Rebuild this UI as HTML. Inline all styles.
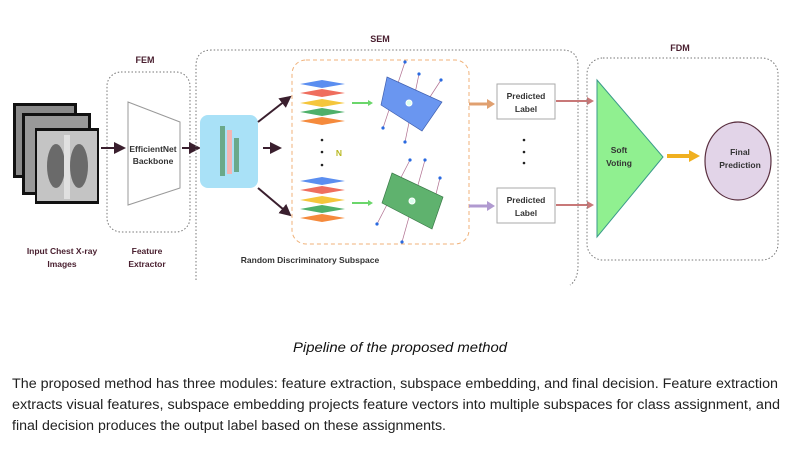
<!DOCTYPE html>
<html><head><meta charset="utf-8"><style>
html,body{margin:0;padding:0;background:#fff;}
svg{display:block;font-family:"Liberation Sans",sans-serif;}
</style></head><body>
<svg width="800" height="450" viewBox="0 0 800 450" xmlns="http://www.w3.org/2000/svg">
<defs>
<marker id="ah" markerWidth="6" markerHeight="6" refX="5" refY="3" orient="auto"><path d="M0,0 L6,3 L0,6 z" fill="#3a1f2e"/></marker>
</defs>
<!-- X-rays -->
<rect x="13" y="103" width="64" height="75" fill="#111"/>
<rect x="16" y="106" width="58" height="69" fill="#8a8a8a"/>
<rect x="22" y="113" width="69" height="82" fill="#111"/>
<rect x="25" y="116" width="63" height="76" fill="#999"/>
<rect x="35" y="128" width="64" height="76" fill="#111"/>
<rect x="37" y="131" width="60" height="70" fill="#c4c4c4"/>
<ellipse cx="56" cy="166" rx="9" ry="22" fill="#6a6a6a"/>
<ellipse cx="79" cy="166" rx="9" ry="22" fill="#6a6a6a"/>
<rect x="64" y="135" width="6" height="64" fill="#e0e0e0"/>
<!-- FEM -->
<text x="145" y="63" font-size="9" font-weight="bold" fill="#4a2030" text-anchor="middle">FEM</text>
<rect x="107" y="72" width="83" height="160" rx="14" fill="none" stroke="#777" stroke-dasharray="1.5,2"/>
<polygon points="128,102 180,122 180,188 128,205" fill="#fff" stroke="#999"/>
<text x="153" y="152" font-size="8.5" font-weight="bold" fill="#333" text-anchor="middle">EfficientNet</text>
<text x="153" y="164" font-size="8.5" font-weight="bold" fill="#333" text-anchor="middle">Backbone</text>
<line x1="101" y1="148" x2="124" y2="148" stroke="#3a1f2e" stroke-width="2" marker-end="url(#ah)"/>
<line x1="182" y1="148" x2="199" y2="148" stroke="#3a1f2e" stroke-width="2" marker-end="url(#ah)"/>
<text x="62" y="254" font-size="8.5" font-weight="bold" fill="#4a2030" text-anchor="middle">Input Chest X-ray</text>
<text x="62" y="267" font-size="8.5" font-weight="bold" fill="#4a2030" text-anchor="middle">Images</text>
<text x="147" y="254" font-size="8.5" font-weight="bold" fill="#4a2030" text-anchor="middle">Feature</text>
<text x="147" y="267" font-size="8.5" font-weight="bold" fill="#4a2030" text-anchor="middle">Extractor</text>
<!-- SEM -->
<text x="380" y="42" font-size="9" font-weight="bold" fill="#4a2030" text-anchor="middle">SEM</text>
<path d="M196,280 L196,66 Q196,50 212,50 L562,50 Q578,50 578,66 L578,265 Q578,280 570,285" fill="none" stroke="#777" stroke-dasharray="1.5,2"/>
<rect x="200" y="115" width="58" height="73" rx="8" fill="#a9e1f7"/>
<rect x="220" y="126" width="5" height="50" fill="#6aa88a"/>
<rect x="227" y="130" width="5" height="44" fill="#f3b4b4"/>
<rect x="234" y="138" width="5" height="34" fill="#6aa88a"/>
<line x1="258" y1="122" x2="290" y2="97" stroke="#3a1f2e" stroke-width="2" marker-end="url(#ah)"/>
<line x1="263" y1="148" x2="280" y2="148" stroke="#3a1f2e" stroke-width="2" marker-end="url(#ah)"/>
<line x1="258" y1="188" x2="290" y2="215" stroke="#3a1f2e" stroke-width="2" marker-end="url(#ah)"/>
<rect x="292" y="60" width="177" height="184" rx="14" fill="none" stroke="#f0b27a" stroke-dasharray="4,3"/>
<g id="stack">
<polygon points="300,84 322,80 345,84 322,88" fill="#5b8ef0"/>
<polygon points="300,93 322,89 345,93 322,97" fill="#ef6e5e"/>
<polygon points="300,103 322,99 345,103 322,107" fill="#f5c63c"/>
<polygon points="300,112 322,108 345,112 322,116" fill="#4fb06a"/>
<polygon points="300,121 322,117 345,121 322,125" fill="#f58a3c"/>
</g>
<use href="#stack" y="97"/>
<circle cx="322" cy="140" r="1.3" fill="#222"/><circle cx="322" cy="152" r="1.3" fill="#222"/><circle cx="322" cy="165" r="1.3" fill="#222"/>
<text x="339" y="156" font-size="8.5" font-weight="bold" fill="#b8b820" text-anchor="middle">N</text>
<line x1="352" y1="103" x2="368" y2="103" stroke="#6bd66b" stroke-width="2"/><polygon points="368,100 373,103 368,106" fill="#6bd66b"/>
<line x1="352" y1="203" x2="368" y2="203" stroke="#6bd66b" stroke-width="2"/><polygon points="368,200 373,203 368,206" fill="#6bd66b"/>
<g stroke="#b07090" stroke-width="0.7">
<line x1="383" y1="128" x2="405" y2="62"/><line x1="405" y1="142" x2="419" y2="74"/><line x1="428" y1="100" x2="441" y2="80"/>
<line x1="377" y1="224" x2="410" y2="160"/><line x1="402" y1="242" x2="425" y2="160"/><line x1="432" y1="210" x2="440" y2="178"/>
</g>
<polygon points="387,77 442,102 422,131 381,105" fill="#6a96f0" stroke="#4060b0" stroke-width="0.7"/>
<polygon points="392,173 443,197 432,229 382,203" fill="#5fb26e" stroke="#3a7a48" stroke-width="0.7"/>
<circle cx="409" cy="103" r="3" fill="#dfe" stroke="#fff"/><circle cx="412" cy="201" r="3" fill="#dfe" stroke="#fff"/>
<g fill="#2a6ae0">
<circle cx="405" cy="62" r="1.6"/><circle cx="419" cy="74" r="1.6"/><circle cx="441" cy="80" r="1.6"/><circle cx="383" cy="128" r="1.6"/><circle cx="405" cy="142" r="1.6"/>
<circle cx="410" cy="160" r="1.6"/><circle cx="425" cy="160" r="1.6"/><circle cx="440" cy="178" r="1.6"/><circle cx="377" cy="224" r="1.6"/><circle cx="402" cy="242" r="1.6"/>
</g>
<text x="310" y="263" font-size="8.5" font-weight="bold" fill="#333" text-anchor="middle">Random Discriminatory Subspace</text>
<line x1="469" y1="104" x2="488" y2="104" stroke="#e0a070" stroke-width="3"/><polygon points="487,99 495,104 487,109" fill="#e0a070"/>
<line x1="469" y1="206" x2="488" y2="206" stroke="#b09ad0" stroke-width="3"/><polygon points="487,201 495,206 487,211" fill="#b09ad0"/>
<rect x="497" y="84" width="58" height="35" fill="#fff" stroke="#aaa"/>
<text x="526" y="99" font-size="8.5" font-weight="bold" fill="#333" text-anchor="middle">Predicted</text>
<text x="526" y="112" font-size="8.5" font-weight="bold" fill="#333" text-anchor="middle">Label</text>
<rect x="497" y="188" width="58" height="35" fill="#fff" stroke="#aaa"/>
<text x="526" y="203" font-size="8.5" font-weight="bold" fill="#333" text-anchor="middle">Predicted</text>
<text x="526" y="216" font-size="8.5" font-weight="bold" fill="#333" text-anchor="middle">Label</text>
<circle cx="524" cy="140" r="1.3" fill="#222"/><circle cx="524" cy="152" r="1.3" fill="#222"/><circle cx="524" cy="163" r="1.3" fill="#222"/>
<line x1="556" y1="101" x2="588" y2="101" stroke="#c87878" stroke-width="2"/><polygon points="587,97 594,101 587,105" fill="#c87878"/>
<line x1="556" y1="205" x2="588" y2="205" stroke="#c87878" stroke-width="2"/><polygon points="587,201 594,205 587,209" fill="#c87878"/>
<!-- FDM -->
<text x="680" y="51" font-size="9" font-weight="bold" fill="#4a2030" text-anchor="middle">FDM</text>
<rect x="587" y="58" width="191" height="202" rx="16" fill="none" stroke="#777" stroke-dasharray="1.5,2"/>
<polygon points="597,80 663,157 597,237" fill="#90f090" stroke="#3a9a8a"/>
<text x="619" y="153" font-size="8.5" font-weight="bold" fill="#333" text-anchor="middle">Soft</text>
<text x="619" y="166" font-size="8.5" font-weight="bold" fill="#333" text-anchor="middle">Voting</text>
<line x1="667" y1="156" x2="690" y2="156" stroke="#f0b020" stroke-width="4"/><polygon points="689,150 700,156 689,162" fill="#f0b020"/>
<ellipse cx="738" cy="161" rx="33" ry="39" fill="#e2d4e8" stroke="#5a3040" stroke-width="1.2"/>
<text x="740" y="155" font-size="8.5" font-weight="bold" fill="#333" text-anchor="middle">Final</text>
<text x="740" y="168" font-size="8.5" font-weight="bold" fill="#333" text-anchor="middle">Prediction</text>
<!-- caption -->
<text x="400" y="352" font-size="14" font-style="italic" fill="#111" text-anchor="middle" textLength="214" lengthAdjust="spacingAndGlyphs">Pipeline of the proposed method</text>
<g font-size="13.5" fill="#222">
<text x="12" y="388" textLength="766" lengthAdjust="spacingAndGlyphs">The proposed method has three modules: feature extraction, subspace embedding, and final decision. Feature extraction</text>
<text x="12" y="409" textLength="768" lengthAdjust="spacingAndGlyphs">extracts visual features, subspace embedding projects feature vectors into multiple subspaces for class assignment, and</text>
<text x="12" y="430" textLength="434" lengthAdjust="spacingAndGlyphs">final decision produces the output label based on these assignments.</text>
</g>
</svg>
</body></html>
